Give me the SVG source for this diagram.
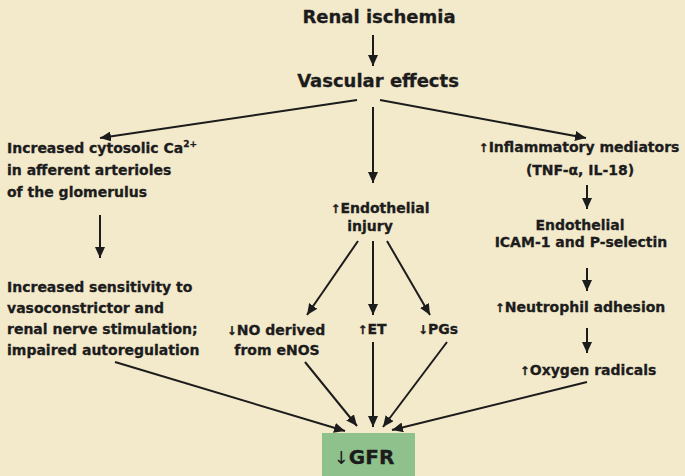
<svg xmlns="http://www.w3.org/2000/svg" width="685" height="476" viewBox="0 0 685 476">
<defs>
<marker id="ah" markerUnits="userSpaceOnUse" markerWidth="12" markerHeight="10" refX="11" refY="5" orient="auto">
<path d="M0,0 L11,5 L0,10 z" fill="#1c1c1c"/>
</marker>
<style>
.t{font-family:"DejaVu Sans","Liberation Sans",sans-serif;font-weight:bold;font-size:14px;fill:#1c1c1c;stroke:#1c1c1c;stroke-width:0.3px}
.h{font-size:18px}
.g{font-size:20px}
.m{text-anchor:middle}
.ar{font-weight:bold;font-size:12px}
.ga{font-weight:normal;font-size:18px;stroke-width:0}
.c line{stroke:#1c1c1c;stroke-width:2;marker-end:url(#ah)}
</style>
</defs>
<rect width="685" height="476" fill="#f3e9cb"/>
<g id="n-renal"><text class="t h m" x="379" y="23">Renal ischemia</text></g>
<g id="n-vascular"><text class="t h m" x="378" y="87">Vascular effects</text></g>
<g id="n-calcium"><text class="t" x="7" y="153">Increased cytosolic Ca<tspan font-size="9" dy="-6">2+</tspan></text>
<text class="t" x="7" y="175">in afferent arterioles</text>
<text class="t" x="7" y="197">of the glomerulus</text></g>
<g id="n-sensitivity"><text class="t" x="7" y="292">Increased sensitivity to</text>
<text class="t" x="7" y="313">vasoconstrictor and</text>
<text class="t" x="7" y="334">renal nerve stimulation;</text>
<text class="t" x="7" y="355">impaired autoregulation</text></g>
<g id="n-endo"><text class="t m" x="380" y="213"><tspan class="ar">↑</tspan>Endothelial</text>
<text class="t m" x="370" y="231">injury</text></g>
<g id="n-no"><text class="t m" x="276" y="335"><tspan class="ar">↓</tspan>NO derived</text>
<text class="t m" x="277" y="355">from eNOS</text></g>
<g id="n-et"><text class="t m" x="372" y="334"><tspan class="ar">↑</tspan>ET</text></g>
<g id="n-pgs"><text class="t m" x="438" y="334"><tspan class="ar">↓</tspan>PGs</text></g>
<g id="n-inflam"><text class="t m" x="579" y="152"><tspan class="ar">↑</tspan>Inflammatory mediators</text>
<text class="t m" x="580" y="175">(TNF-α, IL-18)</text></g>
<g id="n-icam"><text class="t m" x="580" y="230">Endothelial</text>
<text class="t m" x="581" y="247">ICAM-1 and P-selectin</text></g>
<g id="n-neutro"><text class="t m" x="580" y="312"><tspan class="ar">↑</tspan>Neutrophil adhesion</text></g>
<g id="n-oxygen"><text class="t m" x="588" y="375"><tspan class="ar">↑</tspan>Oxygen radicals</text></g>
<g id="n-gfr"><rect x="322" y="433" width="93" height="43" fill="#8ec18c"/>
<text class="t g m" x="364" y="464"><tspan class="ga">↓</tspan>GFR</text></g>
<g class="c" id="connectors">
<line x1="373" y1="35" x2="373" y2="66"/>
<line x1="357" y1="100" x2="100" y2="138"/>
<line x1="373" y1="107" x2="373" y2="183"/>
<line x1="380" y1="100" x2="586" y2="138"/>
<line x1="100" y1="215" x2="100" y2="258"/>
<line x1="587" y1="185" x2="587" y2="209"/>
<line x1="587" y1="268" x2="587" y2="291"/>
<line x1="587" y1="328" x2="587" y2="353"/>
<line x1="358" y1="241" x2="307" y2="315"/>
<line x1="373" y1="241" x2="373" y2="315"/>
<line x1="387" y1="241" x2="430" y2="315"/>
<line x1="115" y1="362" x2="345" y2="431"/>
<line x1="305" y1="362" x2="357" y2="426"/>
<line x1="373" y1="342" x2="373" y2="427"/>
<line x1="447" y1="342" x2="383" y2="427"/>
<line x1="587" y1="382" x2="392" y2="430"/>
</g>
</svg>
